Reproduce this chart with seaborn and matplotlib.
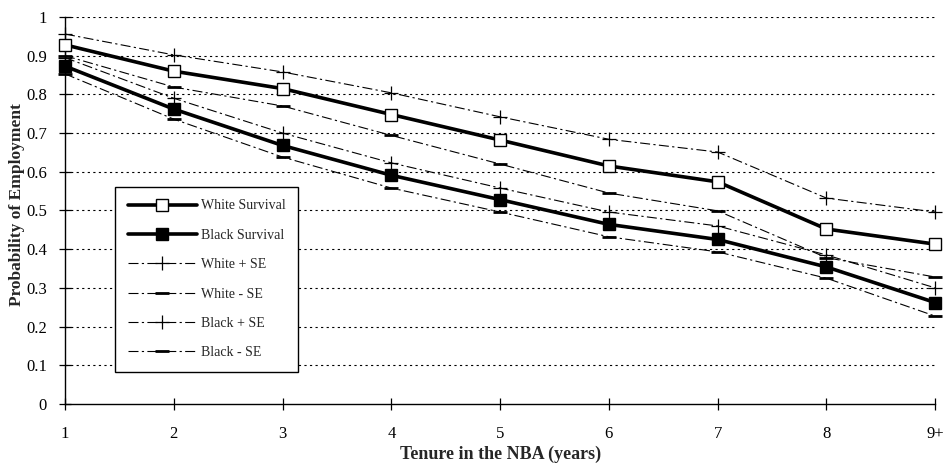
import matplotlib
matplotlib.use("Agg")
import matplotlib.pyplot as plt
import seaborn as sns
import numpy as np
import pandas as pd

tenure = ["1", "2", "3", "4", "5", "6", "7", "8", "9+"]
white_survival = [0.928, 0.860, 0.815, 0.748, 0.682, 0.615, 0.574, 0.452, 0.413]
black_survival = [0.873, 0.762, 0.668, 0.591, 0.528, 0.464, 0.425, 0.354, 0.262]
white_plus_se = [0.956, 0.902, 0.858, 0.804, 0.742, 0.684, 0.651, 0.532, 0.496]
white_minus_se = [0.900, 0.819, 0.770, 0.694, 0.620, 0.545, 0.499, 0.378, 0.328]
black_plus_se = [0.895, 0.790, 0.700, 0.623, 0.558, 0.496, 0.460, 0.385, 0.300]
black_minus_se = [0.853, 0.736, 0.638, 0.558, 0.496, 0.432, 0.393, 0.325, 0.227]

sns.set_theme(style="white")
plt.rcParams["font.family"] = ["Liberation Serif", "DejaVu Serif"]

fig = plt.figure(figsize=(9.49, 4.67), dpi=100)
ax = fig.add_axes([0.0685, 0.135, 0.917, 0.8286])

x = np.arange(len(tenure))
dash = (0, (9, 3, 2, 3))

sns.lineplot(x=x, y=white_survival, ax=ax, color="black", linewidth=2.6,
             marker="s", markersize=8, markerfacecolor="white",
             markeredgecolor="black", markeredgewidth=1.0,
             label="White Survival", clip_on=False, zorder=5)
sns.lineplot(x=x, y=black_survival, ax=ax, color="black", linewidth=2.6,
             marker="s", markersize=8, markerfacecolor="black",
             markeredgecolor="black", markeredgewidth=1.0,
             label="Black Survival", clip_on=False, zorder=5)
sns.lineplot(x=x, y=white_plus_se, ax=ax, color="black", linewidth=0.8,
             linestyle=dash, marker="+", markersize=10, markeredgewidth=0.9,
             markeredgecolor="black", label="White + SE", clip_on=False, zorder=4)
sns.lineplot(x=x, y=white_minus_se, ax=ax, color="black", linewidth=0.8,
             linestyle=dash, marker="_", markersize=10, markeredgewidth=2.0,
             markeredgecolor="black", label="White - SE", clip_on=False, zorder=4)
sns.lineplot(x=x, y=black_plus_se, ax=ax, color="black", linewidth=0.8,
             linestyle=dash, marker="+", markersize=10, markeredgewidth=0.9,
             markeredgecolor="black", label="Black + SE", clip_on=False, zorder=4)
sns.lineplot(x=x, y=black_minus_se, ax=ax, color="black", linewidth=0.8,
             linestyle=dash, marker="_", markersize=10, markeredgewidth=2.0,
             markeredgecolor="black", label="Black - SE", clip_on=False, zorder=4)

ax.set_xlim(0, len(tenure) - 1)
ax.set_ylim(0, 1)
ax.set_xticks(x)
ax.set_xticklabels(tenure)
yt = np.round(np.arange(0, 1.01, 0.1), 1)
ax.set_yticks(yt)
ax.set_yticklabels(["0" if v == 0 else ("1" if v == 1 else f"{v:.1f}") for v in yt])
ax.tick_params(axis="both", direction="inout", length=8, width=0.9,
               colors="black", labelsize=12, left=True, bottom=True)
ax.tick_params(axis="x", pad=12)
ax.tick_params(axis="y", pad=9)

for v in yt[1:]:
    ax.axhline(v, color="black", linestyle=(0, (2, 3)), linewidth=0.8, zorder=1)

for s in ["top", "right"]:
    ax.spines[s].set_visible(False)
for s in ["left", "bottom"]:
    ax.spines[s].set_color("black")
    ax.spines[s].set_linewidth(1.0)

ax.set_xlabel("Tenure in the NBA (years)", fontsize=13, fontweight="bold")
ax.set_ylabel("Probability of Employment", fontsize=12.5, fontweight="bold")
ax.xaxis.set_label_coords(0.5, -0.108)
ax.yaxis.set_label_coords(-0.046, 0.515)

leg = ax.legend(loc="lower left", bbox_to_anchor=(0.0575, 0.083), fontsize=10,
                handlelength=5.0, labelspacing=1.18, borderpad=0.9,
                handletextpad=0.3, fancybox=False, framealpha=1,
                edgecolor="black", borderaxespad=0)
leg.get_frame().set_linewidth(1.0)
leg.set_zorder(10)

fig.savefig("out.png", dpi=100)
